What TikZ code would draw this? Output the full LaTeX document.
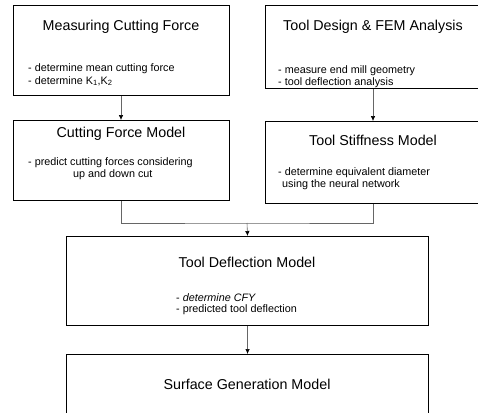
\documentclass[tikz,border=0pt]{standalone}
\usepackage{fontspec}
\setmainfont{Liberation Sans}
\usetikzlibrary{arrows.meta}
\begin{document}
\begin{tikzpicture}[x=1pt,y=-1pt,
  box/.style={draw=black,line width=1.1pt,inner sep=0pt,anchor=north west},
  ttl/.style={font=\fontsize{14.3}{16}\selectfont,inner sep=0pt},
  bdy/.style={font=\fontsize{10.8}{12.5}\selectfont,inner sep=0pt,anchor=west,align=left},
  conn/.style={draw=black!60,line width=0.6pt},
  arr/.style={conn,-{Latex[length=5pt,width=4.5pt,color=black]}}]
\useasboundingbox (0,0) rectangle (478,412);
% boxes
\node[box,minimum width=216pt,minimum height=90pt] (b1) at (13,5) {};
\node[box,minimum width=216pt,minimum height=83pt] (b2) at (265,5) {};
\node[box,minimum width=216pt,minimum height=80pt] (b3) at (13,120) {};
\node[box,minimum width=216pt,minimum height=82pt] (b4) at (265,121) {};
\node[box,minimum width=362pt,minimum height=89pt] (b5) at (66,236) {};
\node[box,minimum width=362pt,minimum height=90pt] (b6) at (66,354) {};
% texts
\node[ttl] (t1) at (121,27) {Measuring Cutting Force};
\node[bdy] (d1) at (28,69) {- determine mean cutting force};
\node[bdy] (e1) at (28,81) {- determine K\textsubscript{1},K\textsubscript{2}};
\node[ttl] (t2) at (373,27) {Tool Design \& FEM Analysis};
\node[bdy] (d2) at (278,71) {- measure end mill geometry};
\node[bdy] (e2) at (278,83) {- tool deflection analysis};
\node[ttl] (t3) at (121,134) {Cutting Force Model};
\node[bdy] (d3) at (28,163) {- predict cutting forces considering};
\node[bdy] (e3) at (73,175) {up and down cut};
\node[ttl] (t4) at (373,140) {Tool Stiffness Model};
\node[bdy] (d4) at (278,173) {- determine equivalent diameter};
\node[bdy] (e4) at (282,185) {using the neural network};
\node[ttl] (t5) at (247,262) {Tool Deflection Model};
\node[bdy] (d5) at (176,298) {- \textit{determine CFY}};
\node[bdy] (e5) at (176,310) {- predicted tool deflection};
\node[ttl] (t6) at (247,384) {Surface Generation Model};
% connectors
\coordinate (m) at (247,223);
\draw[arr] (b1.south -| t1) -- (b3.north -| t1);
\draw[arr] (b2.south -| t2) -- (b4.north -| t2);
\draw[conn] (b3.south -| t3) |- (m) -| (b4.south -| t4);
\draw[arr] (m) -- (b5.north);
\draw[arr] (b5.south) -- (b6.north);
\end{tikzpicture}
\end{document}
